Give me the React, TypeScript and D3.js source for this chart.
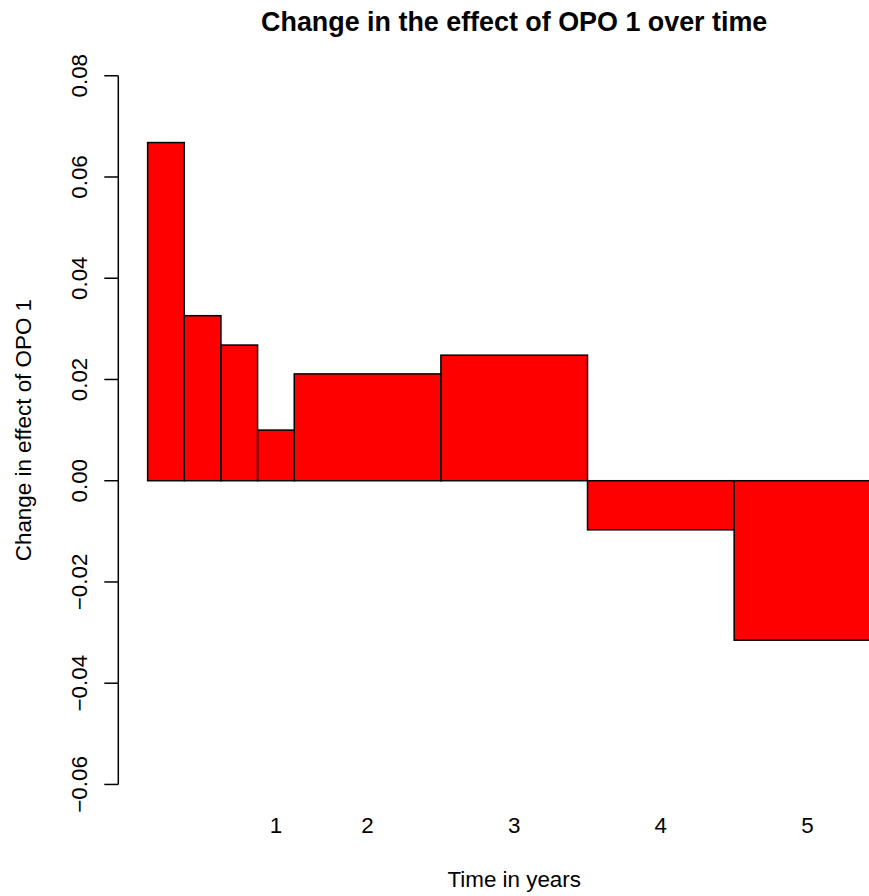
import React from "react";
import * as d3 from "d3";

const intervalStart = [0, 0.25, 0.5, 0.75, 1, 2, 3, 4];
const intervalEnd = [0.25, 0.5, 0.75, 1, 2, 3, 4, 5];
const effectChange = [0.0668, 0.0326, 0.0268, 0.01, 0.0211, 0.0248, -0.0097, -0.0315];
const barLabels = ["", "", "", "1", "2", "3", "4", "5"];
const yTicks = [-0.06, -0.04, -0.02, 0, 0.02, 0.04, 0.06, 0.08];

const W = 869;
const H = 896;
const FONT = "'Liberation Sans', Arial, Helvetica, sans-serif";
const FS = 22.4;

export default function App() {
  // plot region (R barplot, xaxs/yaxs = "r")
  const left = 118.3;
  const right = 910.1;
  const top = 47.4;
  const bottom = 812.8;
  const xDom: [number, number] = [0 - 0.2, 5 + 0.2];
  const yDom: [number, number] = [-0.06 - 0.0056, 0.08 + 0.0056];
  const x = d3.scaleLinear().domain(xDom).range([left, right]);
  const y = d3.scaleLinear().domain(yDom).range([bottom, top]);
  const fmt = (v: number) => {
    const s = Math.abs(v).toFixed(2);
    return v < -1e-9 ? "\u2212" + s : s;
  };
  const cx = (left + right) / 2;
  const cy = (top + bottom) / 2;

  return (
    <svg
      width={W}
      height={H}
      style={{ position: "absolute", left: 0, top: 0, background: "#fff" }}
      fontFamily={FONT}
    >
      <rect x={0} y={0} width={W} height={H} fill="#fff" />
      {effectChange.map((v, i) => {
        const x0 = x(intervalStart[i]);
        const x1 = x(intervalEnd[i]);
        const y0 = y(Math.max(0, v));
        const y1 = y(Math.min(0, v));
        return (
          <rect
            key={i}
            x={x0}
            y={y0}
            width={x1 - x0}
            height={y1 - y0}
            fill="#FF0000"
            stroke="#000"
            strokeWidth={1.5}
          />
        );
      })}
      {/* y axis */}
      <line
        x1={left}
        x2={left}
        y1={y(yTicks[0])}
        y2={y(yTicks[yTicks.length - 1])}
        stroke="#000"
        strokeWidth={1.5}
      />
      {yTicks.map((t) => (
        <g key={t}>
          <line x1={left - 14} x2={left} y1={y(t)} y2={y(t)} stroke="#000" strokeWidth={1.5} />
          <text
            transform={`translate(${86.5},${y(t)}) rotate(-90)`}
            textAnchor="middle"
            fontSize={FS}
            fill="#000"
          >
            {fmt(t)}
          </text>
        </g>
      ))}
      {/* x labels */}
      {barLabels.map((lab, i) =>
        lab ? (
          <text
            key={i}
            x={x((intervalStart[i] + intervalEnd[i]) / 2)}
            y={833}
            textAnchor="middle"
            fontSize={FS}
            fill="#000"
          >
            {lab}
          </text>
        ) : null
      )}
      <text x={cx} y={887} textAnchor="middle" fontSize={FS} fill="#000">
        Time in years
      </text>
      <text
        transform={`translate(${30.5},${cy}) rotate(-90)`}
        textAnchor="middle"
        fontSize={FS}
        fill="#000"
      >
        Change in effect of OPO 1
      </text>
      <text x={cx} y={31} textAnchor="middle" fontSize={FS * 1.2} fontWeight="bold" fill="#000">
        Change in the effect of OPO 1 over time
      </text>
    </svg>
  );
}
